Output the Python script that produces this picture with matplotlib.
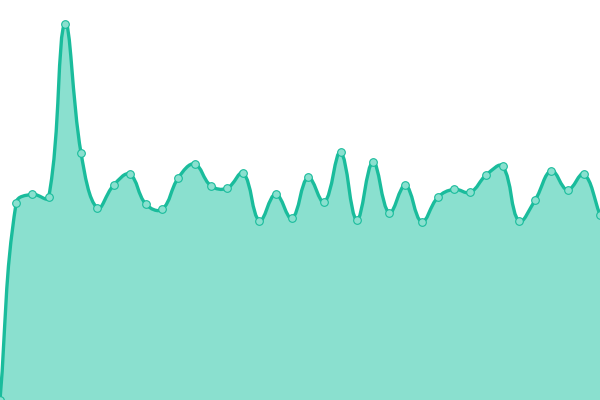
import numpy as np
import matplotlib
matplotlib.use("Agg")
import matplotlib.pyplot as plt
from matplotlib.path import Path
from matplotlib.patches import PathPatch

labels = list(range(38))
values = [0, 197.3, 205.7, 202.7, 376.5, 246.7, 191.7, 214.7, 225.7, 195.7,
          190.7, 222.3, 236, 214.3, 211.7, 227, 179.3, 206, 181.7, 222.7,
          197.7, 247.7, 180.3, 238, 187, 214.7, 178.3, 202.7, 210.7, 207.7,
          225.3, 233.7, 179, 200, 229.3, 210, 226, 185.3]

LINE = "#1abc9c"
FILL = "#8ae0cf"
TENSION = 0.4

fig = plt.figure(figsize=(6, 4), dpi=100)
ax = fig.add_axes([0, 0, 1, 1])
ax.set_xlim(0, len(values) - 1)
ax.set_ylim(0, 400)
ax.axis("off")

xs = np.arange(len(values), dtype=float)
pts = ax.transData.transform(np.column_stack([xs, values]))

n = len(pts)
prev_cp = np.zeros_like(pts)
next_cp = np.zeros_like(pts)
for i in range(n):
    c = pts[i]
    p = pts[i - 1] if i > 0 else c
    nx = pts[i + 1] if i < n - 1 else c
    d01 = np.hypot(*(c - p))
    d12 = np.hypot(*(nx - c))
    tot = d01 + d12
    s01 = d01 / tot if tot else 0
    s12 = d12 / tot if tot else 0
    fa = TENSION * s01
    fb = TENSION * s12
    prev_cp[i] = c - fa * (nx - p)
    next_cp[i] = c + fb * (nx - p)

inv = ax.transData.inverted()
pts_d = inv.transform(pts)
prev_d = inv.transform(prev_cp)
next_d = inv.transform(next_cp)

verts = [pts_d[0]]
codes = [Path.MOVETO]
for i in range(1, n):
    verts += [next_d[i - 1], prev_d[i], pts_d[i]]
    codes += [Path.CURVE4] * 3

line_path = Path(verts, codes)
fill_verts = [(xs[0], 0)] + [tuple(v) for v in verts] + [(xs[-1], 0), (xs[0], 0)]
fill_codes = [Path.MOVETO, Path.LINETO] + codes[1:] + [Path.LINETO, Path.CLOSEPOLY]
ax.add_patch(PathPatch(Path(fill_verts, fill_codes), facecolor=FILL, edgecolor="none", zorder=1))
ax.add_patch(PathPatch(line_path, facecolor="none", edgecolor=LINE, lw=2.4, zorder=2,
                       capstyle="round", joinstyle="round"))
ax.plot(xs, values, linestyle="none", marker="o", markersize=5.5,
        markerfacecolor=FILL, markeredgecolor=LINE, markeredgewidth=0.8,
        zorder=3, clip_on=True)

fig.savefig("out.png", dpi=100)
